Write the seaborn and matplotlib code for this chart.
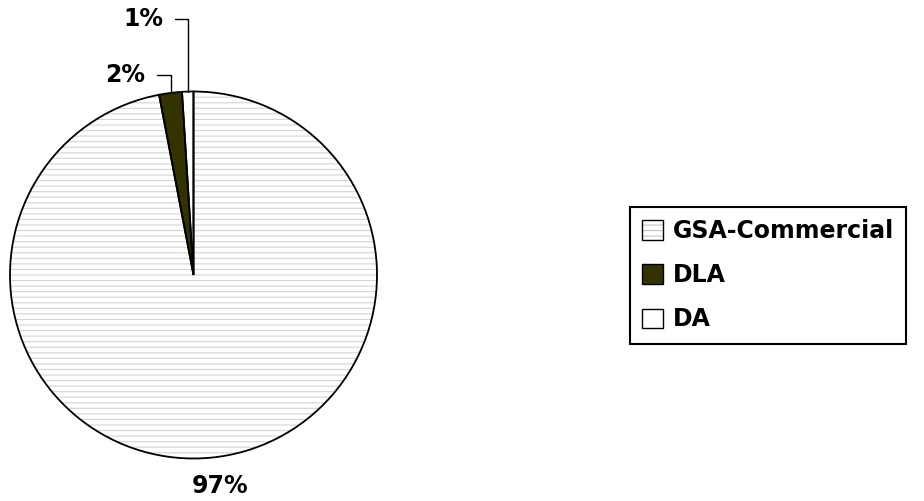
import numpy as np
import matplotlib.pyplot as plt
import matplotlib.patches as mpatches
import seaborn as sns

labels = ["GSA-Commercial", "DLA", "DA"]
values = [97, 2, 1]
colors = ["white", "#333300", "white"]
hatches = ["---", "", ""]
pct_labels = ["97%", "2%", "1%"]

sns.set_style("white")
plt.rcParams["font.family"] = ["DejaVu Sans"]
plt.rcParams["text.color"] = "black"
plt.rcParams["hatch.linewidth"] = 0.8

fig = plt.figure(figsize=(9.24, 5.01), dpi=100)
ax = fig.add_axes([10 / 924, 42.5 / 501, 367 / 924, 367 / 501])

# fill layer (hatch in light grey, no outline)
fills, _ = ax.pie(values, colors=colors, startangle=90, counterclock=False,
                  wedgeprops=dict(edgecolor="#d4d4d4", linewidth=0))
for w, h in zip(fills, hatches):
    w.set_hatch(h)
# outline layer
outlines, _ = ax.pie(values, colors=["none"] * 3, startangle=90, counterclock=False,
                     wedgeprops=dict(edgecolor="black", linewidth=1.3))
ax.set_xlim(-1, 1)
ax.set_ylim(-1, 1)
ax.set_aspect("auto")
ax.axis("off")

# percent labels with leader lines
text_pos = {"97%": (0.144, -1.15), "2%": (-0.262, 1.09), "1%": (-0.164, 1.395)}
for w, lab in zip(outlines, pct_labels):
    mid = np.deg2rad((w.theta1 + w.theta2) / 2)
    x, y = np.cos(mid), np.sin(mid)
    tx, ty = text_pos[lab]
    if lab == "97%":
        ax.text(tx, ty, lab, ha="center", va="center", fontsize=17,
                fontweight="bold", clip_on=False)
    else:
        ax.annotate(lab, xy=(x, y), xytext=(tx, ty), ha="right", va="center",
                    fontsize=17, fontweight="bold", annotation_clip=False,
                    arrowprops=dict(arrowstyle="-", color="black", lw=1,
                                    shrinkA=6, shrinkB=0,
                                    connectionstyle="angle,angleA=0,angleB=90,rad=0"))

# legend: overlay hatch patch and black outline
handles = []
for c, h in zip(colors, hatches):
    fill = mpatches.Patch(facecolor=c, edgecolor="#c4c4c4", linewidth=0, hatch=h)
    edge = mpatches.Patch(facecolor="none", edgecolor="black", linewidth=1)
    handles.append((fill, edge))
leg = fig.legend(handles, labels, loc="upper left", bbox_to_anchor=(630 / 924, 1 - 207 / 501),
                 prop=dict(weight="bold", size=17), frameon=True, fancybox=False,
                 handlelength=0.89, handleheight=0.89, handletextpad=0.4,
                 labelspacing=0.85, borderpad=0.52, borderaxespad=0)
leg.get_frame().set_edgecolor("black")
leg.get_frame().set_linewidth(1.5)
leg.get_frame().set_alpha(None)

fig.savefig("out.png", dpi=100)
